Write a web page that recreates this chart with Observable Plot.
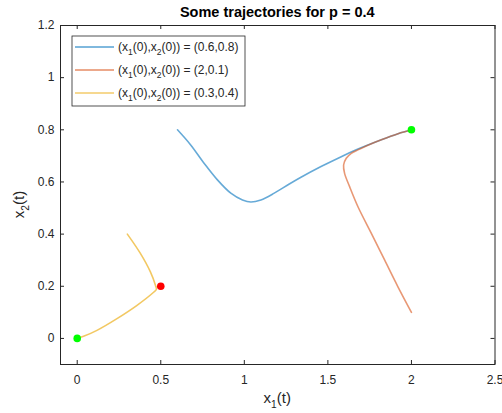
<!DOCTYPE html>
<html><head><meta charset="utf-8">
<script src="https://cdn.jsdelivr.net/npm/d3@7"></script>
<script src="https://cdn.jsdelivr.net/npm/@observablehq/plot@0.6"></script>
<style>html,body{margin:0;padding:0;background:#fff;overflow:hidden;} svg{display:block;}</style>
</head><body><div id="chart"></div>
<script>
// ---- data ----
const blueX = [0.6, 0.679, 0.759, 0.839, 0.919, 0.989, 1.039, 1.099, 1.179, 1.269, 1.339, 1.459, 1.58, 1.68, 1.82, 1.92, 2.0];
const blueY = [0.8, 0.742, 0.672, 0.608, 0.557, 0.531, 0.523, 0.531, 0.557, 0.592, 0.618, 0.659, 0.697, 0.726, 0.762, 0.785, 0.8];
const orangeX = [2.0, 1.92, 1.84, 1.76, 1.68, 1.63, 1.60, 1.594, 1.61, 1.64, 1.68, 1.75, 1.82, 1.92, 2.0];
const orangeY = [0.1, 0.197, 0.3, 0.403, 0.505, 0.582, 0.633, 0.665, 0.691, 0.71, 0.723, 0.744, 0.762, 0.785, 0.8];
const yellowX = [0.3, 0.378, 0.438, 0.468, 0.474, 0.459, 0.358, 0.238, 0.118, 0.038, 0];
const yellowY = [0.4, 0.326, 0.255, 0.204, 0.188, 0.178, 0.127, 0.076, 0.031, 0.008, 0];
const stableX = [0, 2];
const stableY = [0, 0.8];
const saddleX = [0.5];
const saddleY = [0.2];
const xTicks = [0, 0.5, 1, 1.5, 2, 2.5];
const xTickLabels = ["0", "0.5", "1", "1.5", "2", "2.5"];
const yTicks = [0, 0.2, 0.4, 0.6, 0.8, 1, 1.2];
const yTickLabels = ["0", "0.2", "0.4", "0.6", "0.8", "1", "1.2"];
const seriesValues = ["(0.6,0.8)", "(2,0.1)", "(0.3,0.4)"];
const seriesColors = ["#0072BD", "#D95319", "#EDB120"];
const titleText = "Some trajectories for p = 0.4";

// ---- layout ----
const toRows = (xs, ys) => xs.map((x, i) => ({x, y: ys[i]}));
const W = 502, H = 413, mL = 60, mR = 7.5, mT = 25, mB = 49;
const fw = W - mL - mR, fh = H - mT - mB;
const axisColor = "#262626";
const lineOpts = (c, o) => ({x: "x", y: "y", stroke: c, strokeWidth: 1.6, strokeOpacity: o, curve: "catmull-rom"});

const plot = Plot.plot({
  width: W, height: H,
  marginLeft: mL, marginRight: mR, marginTop: mT, marginBottom: mB,
  style: {fontFamily: "'Liberation Sans', Arial, Helvetica, sans-serif", fontSize: "12px", color: axisColor, background: "#fff"},
  x: {domain: [-0.1, 2.5]},
  y: {domain: [-0.1, 1.2]},
  marks: [
    Plot.line(toRows(blueX, blueY), lineOpts(seriesColors[0], 0.6)),
    Plot.line(toRows(orangeX, orangeY), lineOpts(seriesColors[1], 0.6)),
    Plot.line(toRows(yellowX, yellowY), lineOpts(seriesColors[2], 0.7)),
    Plot.dot(toRows(stableX, stableY), {x: "x", y: "y", r: 3.8, fill: "#00ff00", stroke: "none"}),
    Plot.dot(toRows(saddleX, saddleY), {x: "x", y: "y", r: 3.8, fill: "#ff0000", stroke: "none"}),
    Plot.frame({stroke: axisColor, strokeWidth: 1}),
    Plot.tickX(xTicks, {x: d => d, insetTop: fh - 4, stroke: axisColor}),
    Plot.tickX(xTicks, {x: d => d, insetBottom: fh - 4, stroke: axisColor}),
    Plot.tickY(yTicks, {y: d => d, insetRight: fw - 4, stroke: axisColor}),
    Plot.tickY(yTicks, {y: d => d, insetLeft: fw - 4, stroke: axisColor}),
    Plot.axisX(xTicks, {tickSize: 0, tickPadding: 11, label: null, fill: axisColor,
      tickFormat: d => xTickLabels[xTicks.indexOf(d)]}),
    Plot.axisY(yTicks, {tickSize: 0, tickPadding: 6, label: null, fill: axisColor,
      tickFormat: d => yTickLabels[yTicks.indexOf(d)]})
  ]
});

const svg = d3.select(plot);
// title
svg.append("text")
  .attr("x", mL + fw / 2).attr("y", 17)
  .attr("text-anchor", "middle").attr("font-weight", "bold")
  .attr("font-size", 14.5).attr("fill", "#000")
  .text(titleText);

// axis labels with subscripts
function subLabel(g, idx, size) {
  g.append("tspan").text("x");
  g.append("tspan").attr("font-size", size * 0.68).attr("dy", size * 0.3).text(idx);
  g.append("tspan").attr("dy", -size * 0.3).text("(t)");
}
const xl = svg.append("text")
  .attr("x", mL + fw / 2).attr("y", 403)
  .attr("text-anchor", "middle").attr("font-size", 15).attr("fill", axisColor);
subLabel(xl, "1", 15);
const yl = svg.append("text")
  .attr("transform", `translate(24,${mT + fh / 2 + 10}) rotate(-90)`)
  .attr("text-anchor", "middle").attr("font-size", 15).attr("fill", axisColor);
subLabel(yl, "2", 15);

// legend
const lg = svg.append("g");
lg.append("rect").attr("x", 72).attr("y", 36).attr("width", 173).attr("height", 70)
  .attr("fill", "#fff").attr("stroke", axisColor).attr("stroke-width", 0.8);
seriesValues.forEach((v, i) => {
  const cy = 47 + i * 23;
  lg.append("line").attr("x1", 75).attr("x2", 114).attr("y1", cy).attr("y2", cy)
    .attr("stroke", seriesColors[i]).attr("stroke-width", 1);
  const t = lg.append("text").attr("x", 118).attr("y", cy + 4)
    .attr("text-anchor", "start")
    .attr("font-size", 12).attr("fill", axisColor);
  t.append("tspan").text("(x");
  t.append("tspan").attr("font-size", 8.5).attr("dy", 3.5).text("1");
  t.append("tspan").attr("dy", -3.5).text("(0),x");
  t.append("tspan").attr("font-size", 8.5).attr("dy", 3.5).text("2");
  t.append("tspan").attr("dy", -3.5).text("(0)) = " + v);
});

document.getElementById("chart").appendChild(plot);
</script>
</body></html>
